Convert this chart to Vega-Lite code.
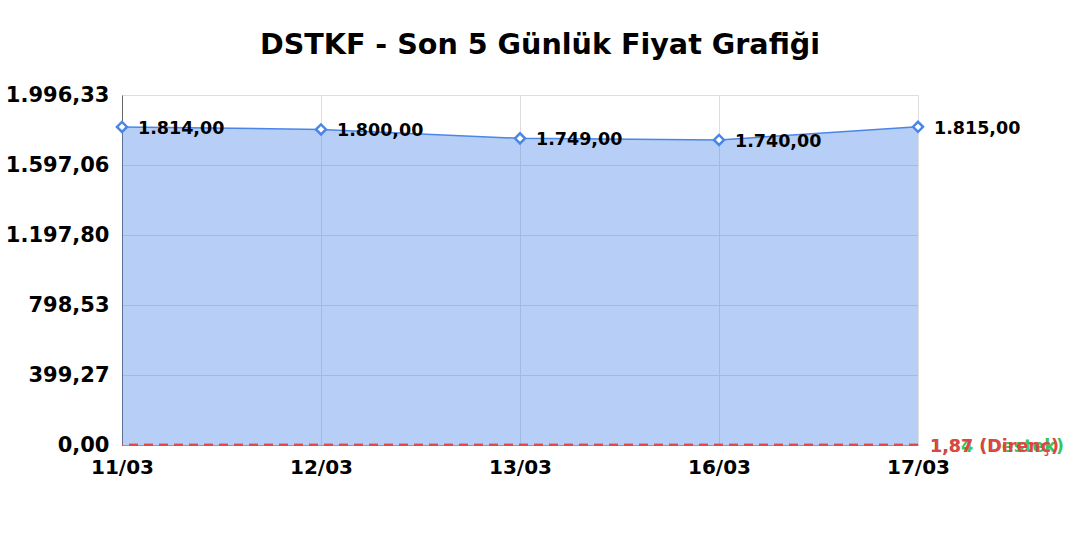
{
  "$schema": "https://vega.github.io/schema/vega-lite/v6.json",
  "width": 796,
  "height": 350,
  "autosize": {"type": "none"},
  "padding": {"left": 122, "top": 95, "right": 162, "bottom": 95},
  "background": "white",
  "title": {
    "text": "DSTKF - Son 5 Günlük Fiyat Grafiği",
    "font": "DejaVu Sans",
    "fontSize": 28.6,
    "fontWeight": "bold",
    "color": "#000000",
    "anchor": "middle",
    "frame": "group",
    "dx": 20,
    "offset": 24
  },
  "config": {
    "locale": {"number": {"decimal": ",", "thousands": ".", "grouping": [3], "currency": ["", ""]}},
    "view": {"stroke": null},
    "font": "DejaVu Sans"
  },
  "layer": [
    {
      "data": {
        "values": [
          {"date": "11/03", "price": 1814},
          {"date": "12/03", "price": 1800},
          {"date": "13/03", "price": 1749},
          {"date": "16/03", "price": 1740},
          {"date": "17/03", "price": 1815}
        ]
      },
      "encoding": {
        "x": {
          "field": "date",
          "type": "ordinal",
          "sort": null,
          "scale": {"type": "point", "padding": 0},
          "title": null,
          "axis": {
            "labelAngle": 0,
            "labelFont": "DejaVu Sans",
            "labelFontSize": 20,
            "labelFontWeight": "bold",
            "labelColor": "#000000",
            "labelPadding": 12,
            "ticks": false,
            "domain": true,
            "domainColor": "#999999",
            "grid": true,
            "gridColor": "#dddddd",
            "zindex": 0
          }
        },
        "y": {
          "field": "price",
          "type": "quantitative",
          "scale": {"domain": [0, 1996.33], "nice": false, "zero": true},
          "title": null,
          "axis": {
            "values": [0, 399.266, 798.532, 1197.798, 1597.064, 1996.33],
            "format": ",.2f",
            "labelFont": "DejaVu Sans",
            "labelFontSize": 21,
            "labelFontWeight": "bold",
            "labelColor": "#000000",
            "labelPadding": 13,
            "ticks": false,
            "domain": true,
            "domainColor": "#666666",
            "grid": true,
            "gridColor": "#dddddd"
          }
        }
      },
      "layer": [
        {
          "mark": {
            "type": "area",
            "color": "#4a86e8",
            "opacity": 0.4,
            "line": {"color": "#4a86e8", "strokeWidth": 1.5, "opacity": 1}
          }
        },
        {
          "mark": {
            "type": "point",
            "shape": "diamond",
            "filled": true,
            "fill": "white",
            "stroke": "#4a86e8",
            "strokeWidth": 2.5,
            "size": 100,
            "opacity": 1
          }
        },
        {
          "mark": {
            "type": "text",
            "align": "left",
            "baseline": "middle",
            "dx": 16,
            "dy": 2,
            "font": "DejaVu Sans",
            "fontSize": 17.5,
            "fontWeight": "bold",
            "color": "#000000"
          },
          "encoding": {"text": {"field": "price", "type": "quantitative", "format": ",.2f"}}
        }
      ]
    },
    {
      "data": {
        "values": [
          {"date": "17/03", "level": 1.84, "label": "1,84 (Destek)", "kind": "Destek"},
          {"date": "17/03", "level": 1.87, "label": "1,87 (Direnç)", "kind": "Direnç"}
        ]
      },
      "layer": [
        {
          "mark": {"type": "rule", "strokeDash": [9, 6], "strokeWidth": 2},
          "encoding": {
            "y": {"field": "level", "type": "quantitative"},
            "color": {
              "field": "kind",
              "type": "nominal",
              "scale": {"domain": ["Destek", "Direnç"], "range": ["#34c759", "#e04545"]},
              "legend": null
            }
          }
        },
        {
          "mark": {
            "type": "text",
            "align": "left",
            "baseline": "middle",
            "dx": 12,
            "dy": 2,
            "font": "DejaVu Sans",
            "fontSize": 17.5,
            "fontWeight": "bold"
          },
          "encoding": {
            "x": {"field": "date", "type": "ordinal", "sort": null},
            "y": {"field": "level", "type": "quantitative"},
            "text": {"field": "label"},
            "color": {"field": "kind", "type": "nominal", "legend": null}
          }
        }
      ]
    }
  ]
}
